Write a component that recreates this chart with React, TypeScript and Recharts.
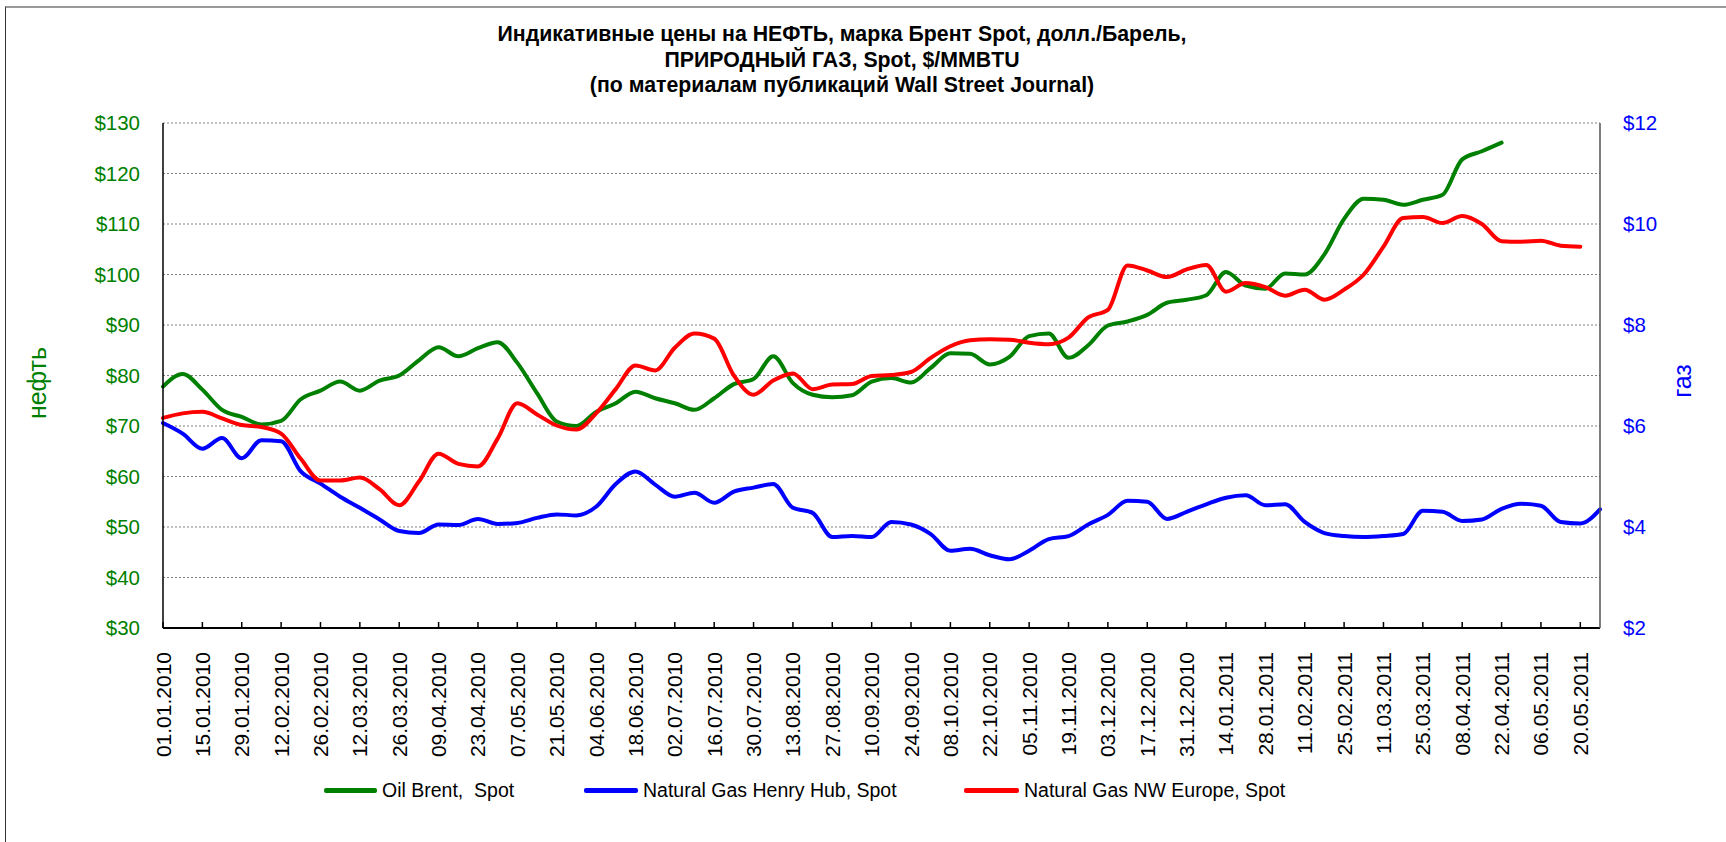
import { LineChart, Line, XAxis, YAxis, CartesianGrid } from 'recharts'

// подписи оси X (каждые 2 недели)
const tickLabels = [
  '01.01.2010', '15.01.2010', '29.01.2010', '12.02.2010', '26.02.2010', '12.03.2010', '26.03.2010',
  '09.04.2010', '23.04.2010', '07.05.2010', '21.05.2010', '04.06.2010', '18.06.2010', '02.07.2010',
  '16.07.2010', '30.07.2010', '13.08.2010', '27.08.2010', '10.09.2010', '24.09.2010', '08.10.2010',
  '22.10.2010', '05.11.2010', '19.11.2010', '03.12.2010', '17.12.2010', '31.12.2010', '14.01.2011',
  '28.01.2011', '11.02.2011', '25.02.2011', '11.03.2011', '25.03.2011', '08.04.2011', '22.04.2011',
  '06.05.2011', '20.05.2011'
]

// недельные значения, нефть Brent, $/барр.
const oilBrent = [
  77.8, 80.3, 77.2, 73.2, 71.8, 70.3, 71, 75.3, 77, 78.8, 77, 79, 80, 83, 85.6, 83.8, 85.4,
  86.6, 82.5, 76.5, 70.9, 70, 72.8, 74.5, 76.8, 75.5, 74.5, 73.2, 75.5, 78.3, 79.3, 83.8, 78.5,
  76.2, 75.7, 76.1, 78.8, 79.5, 78.6, 81.5, 84.4, 84.3, 82.2, 83.7, 87.8, 88.3, 83.5, 86, 89.9,
  90.7, 92, 94.4, 95, 95.9, 100.5, 97.8, 97.2, 100.2, 100, 104, 111, 115, 114.8, 113.8, 114.8,
  115.8, 122.8, 124.4, 126.1
]

// Henry Hub, $/MMBTU
const henryHub = [
  6.06, 5.85, 5.55, 5.76, 5.36, 5.72, 5.7, 5.1, 4.86, 4.6, 4.38, 4.15, 3.92, 3.88, 4.05, 4.04,
  4.16, 4.06, 4.08, 4.18, 4.25, 4.23, 4.4, 4.85, 5.1, 4.84, 4.6, 4.68, 4.48, 4.7, 4.78, 4.85,
  4.38, 4.28, 3.8, 3.82, 3.8, 4.1, 4.05, 3.86, 3.53, 3.57, 3.44, 3.36, 3.53, 3.76, 3.82, 4.05,
  4.24, 4.52, 4.5, 4.16, 4.3, 4.45, 4.58, 4.63, 4.43, 4.45, 4.1, 3.88, 3.82, 3.8, 3.82, 3.86,
  4.32, 4.3, 4.12, 4.15, 4.36, 4.46, 4.42, 4.1, 4.07, 4.35
]

// NW Europe, $/MMBTU
const nwEurope = [
  6.16, 6.25, 6.28, 6.15, 6.02, 5.98, 5.85, 5.35, 4.92, 4.92, 4.98, 4.75, 4.43, 4.9, 5.45, 5.25,
  5.2, 5.75, 6.45, 6.23, 6.01, 5.93, 6.25, 6.73, 7.2, 7.1, 7.55, 7.83, 7.73, 7.0, 6.62, 6.9,
  7.04, 6.73, 6.82, 6.83, 6.99, 7.01, 7.07, 7.35, 7.58, 7.7, 7.72, 7.71, 7.65, 7.62, 7.75, 8.15,
  8.3, 9.18, 9.08, 8.95, 9.1, 9.19, 8.66, 8.83, 8.75, 8.58, 8.7, 8.5, 8.7, 9.0, 9.55, 10.12,
  10.14, 10.02, 10.16, 10.0, 9.66, 9.65, 9.67, 9.57, 9.55
]

const oilTicks = [30, 40, 50, 60, 70, 80, 90, 100, 110, 120, 130]
const gasTicks = [2, 4, 6, 8, 10, 12]

const data = henryHub.map((hh, i) => ({
  week: i,
  oil: i < oilBrent.length ? oilBrent[i] : null,
  hh,
  nwe: i < nwEurope.length ? nwEurope[i] : null
}))

const xTicks = tickLabels.map((_, i) => i * 2)

const font = '"Liberation Sans", Arial, sans-serif'

function DateTick(props: any) {
  const { x, y, payload } = props
  const ty = y + 24
  return (
    <g>
      <line x1={x} y1={y} x2={x} y2={y - 6} stroke="#000" strokeWidth={1.5} />
      <text
        x={x}
        y={ty}
        transform={`rotate(-90 ${x} ${ty})`}
        textAnchor="end"
        dominantBaseline="central"
        fontSize={21}
        fill="#000"
      >
        {tickLabels[payload.value / 2]}
      </text>
    </g>
  )
}

const legendItems = [
  { name: 'Oil Brent,  Spot', color: '#008000', line: 324, text: 382 },
  { name: 'Natural Gas Henry Hub, Spot', color: '#0000ff', line: 584, text: 643 },
  { name: 'Natural Gas NW Europe, Spot', color: '#ff0000', line: 964, text: 1024 }
]

export default function App() {
  return (
    <div
      style={{
        position: 'absolute',
        left: 0,
        top: 0,
        width: 1726,
        height: 842,
        overflow: 'hidden',
        background: '#fff',
        fontFamily: font
      }}
    >
      {/* рамка */}
      <div
        style={{
          position: 'absolute',
          left: 5,
          top: 6,
          width: 1730,
          height: 850,
          borderTop: '2px solid #999',
          borderLeft: '1px solid #333'
        }}
      />

      <div
        style={{
          position: 'absolute',
          left: 0,
          top: 22,
          width: 1684,
          textAlign: 'center',
          fontWeight: 'bold',
          fontSize: 21.3,
          lineHeight: '25.5px',
          color: '#000'
        }}
      >
        <div>Индикативные цены на НЕФТЬ, марка Брент Spot, долл./Барель,</div>
        <div>ПРИРОДНЫЙ ГАЗ, Spot, $/MMBTU</div>
        <div>(по материалам публикаций Wall Street Journal)</div>
      </div>

      <div style={{ position: 'absolute', left: 0, top: 0 }}>
        <LineChart
          width={1726}
          height={842}
          data={data}
          margin={{ top: 123, right: 46, left: 0, bottom: 114 }}
        >
          <CartesianGrid yAxisId="left" vertical={false} stroke="#808080" strokeDasharray="2 2" />
          <XAxis
            dataKey="week"
            type="number"
            domain={[0, 73]}
            ticks={xTicks}
            interval={0}
            height={100}
            tickSize={0}
            tickMargin={0}
            tickLine={false}
            axisLine={{ stroke: '#000', strokeWidth: 2 }}
            tick={<DateTick />}
          />
          <YAxis
            yAxisId="left"
            domain={[30, 130]}
            ticks={oilTicks}
            interval={0}
            width={163}
            tickSize={0}
            tickMargin={23}
            tickLine={false}
            axisLine={{ stroke: '#000', strokeWidth: 1.5 }}
            tick={{ fill: '#008000', fontSize: 20.5 }}
            tickFormatter={(v) => `$${v}`}
          />
          <YAxis
            yAxisId="right"
            orientation="right"
            domain={[2, 12]}
            ticks={gasTicks}
            interval={0}
            width={80}
            tickSize={0}
            tickMargin={23}
            tickLine={false}
            axisLine={{ stroke: '#555', strokeWidth: 1.5 }}
            tick={{ fill: '#0000ff', fontSize: 20.5 }}
            tickFormatter={(v) => `$${v}`}
          />
          <Line
            yAxisId="left"
            type="monotone"
            dataKey="oil"
            stroke="#008000"
            strokeWidth={4}
            strokeLinecap="round"
            dot={false}
            isAnimationActive={false}
          />
          <Line
            yAxisId="right"
            type="monotone"
            dataKey="hh"
            stroke="#0000ff"
            strokeWidth={4}
            strokeLinecap="round"
            dot={false}
            isAnimationActive={false}
          />
          <Line
            yAxisId="right"
            type="monotone"
            dataKey="nwe"
            stroke="#ff0000"
            strokeWidth={4}
            strokeLinecap="round"
            dot={false}
            isAnimationActive={false}
          />
        </LineChart>
      </div>

      {/* подписи осей */}
      <div
        style={{
          position: 'absolute',
          left: 37,
          top: 383,
          transform: 'translate(-50%, -50%) rotate(-90deg)',
          color: '#008000',
          fontSize: 25,
          whiteSpace: 'nowrap'
        }}
      >
        нефть
      </div>
      <div
        style={{
          position: 'absolute',
          left: 1682,
          top: 381,
          transform: 'translate(-50%, -50%) rotate(-90deg)',
          color: '#0000ff',
          fontSize: 25,
          whiteSpace: 'nowrap'
        }}
      >
        газ
      </div>

      {/* легенда */}
      {legendItems.map(item => (
        <div key={item.name}>
          <div
            style={{
              position: 'absolute',
              left: item.line,
              top: 788,
              width: item.text - item.line - 5,
              height: 5,
              borderRadius: 2,
              background: item.color
            }}
          />
          <div
            style={{
              position: 'absolute',
              left: item.text,
              top: 778,
              fontSize: 19.5,
              lineHeight: '24px',
              color: '#000',
              whiteSpace: 'pre'
            }}
          >
            {item.name}
          </div>
        </div>
      ))}
    </div>
  )
}
